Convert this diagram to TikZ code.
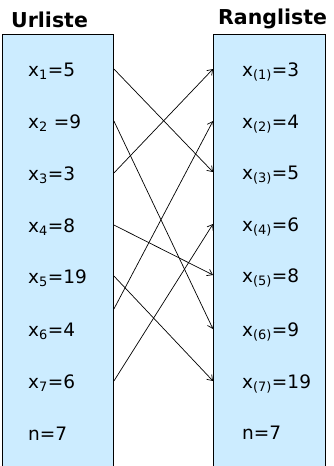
\documentclass[tikz,border=0pt]{standalone}
\usepackage{fontspec}
\setmainfont{DejaVu Sans}
\usetikzlibrary{arrows.meta}
\definecolor{listblue}{RGB}{204,236,255}

\begin{document}
\begin{tikzpicture}[x=1pt,y=-1pt,
  listbox/.style={draw,line width=0.9pt,fill=listblue,anchor=north west,
    minimum height=450pt,inner sep=0pt},
  entry/.style={anchor=base west,inner sep=0pt,text height=14pt,text depth=0pt,
    font=\fontsize{18.5}{22}\selectfont},
  heading/.style={anchor=base west,inner sep=0pt,font=\bfseries\fontsize{20.5}{24}\selectfont},
  link/.style={line width=0.7pt,-{Straight Barb[length=5pt,width=7pt]}}]
\useasboundingbox (0,0) rectangle (334,466);
% the two lists
\node[listbox,minimum width=111pt] (lbox) at (2,34) {};
\node[listbox,minimum width=112pt] (rbox) at (213,34) {};
\node[heading] (lhead) at (11,27) {Urliste};
\node[heading] (rhead) at (218,24) {Rangliste};
% original order
\node[entry] (l1) at (28,76) {x\textsubscript{1}=5};
\node[entry] (l2) at (28,128) {x\textsubscript{2} =9};
\node[entry] (l3) at (28,180) {x\textsubscript{3}=3};
\node[entry] (l4) at (28,232) {x\textsubscript{4}=8};
\node[entry] (l5) at (28,283) {x\textsubscript{5}=19};
\node[entry] (l6) at (28,336) {x\textsubscript{6}=4};
\node[entry] (l7) at (28,388) {x\textsubscript{7}=6};
\node[entry] (ln) at (28,440) {n=7};
% sorted order
\node[entry] (r1) at (242,76) {x\textsubscript{(1)}=3};
\node[entry] (r2) at (242,128) {x\textsubscript{(2)}=4};
\node[entry] (r3) at (242,179) {x\textsubscript{(3)}=5};
\node[entry] (r4) at (242,231) {x\textsubscript{(4)}=6};
\node[entry] (r5) at (242,282) {x\textsubscript{(5)}=8};
\node[entry] (r6) at (242,336) {x\textsubscript{(6)}=9};
\node[entry] (r7) at (242,388) {x\textsubscript{(7)}=19};
\node[entry] (rn) at (242,439) {n=7};
% ranks
\coordinate (s6) at ([yshift=20pt]l6.east);
\draw[link] (l1 -| lbox.east) -- (r3 -| rbox.west);
\draw[link] (l2 -| lbox.east) -- (r6 -| rbox.west);
\draw[link] (l3 -| lbox.east) -- (r1 -| rbox.west);
\draw[link] (l4 -| lbox.east) -- (r5 -| rbox.west);
\draw[link] (l5 -| lbox.east) -- (r7 -| rbox.west);
\draw[link] (s6 -| lbox.east) -- (r2 -| rbox.west);
\draw[link] (l7 -| lbox.east) -- (r4 -| rbox.west);
\end{tikzpicture}
\end{document}
